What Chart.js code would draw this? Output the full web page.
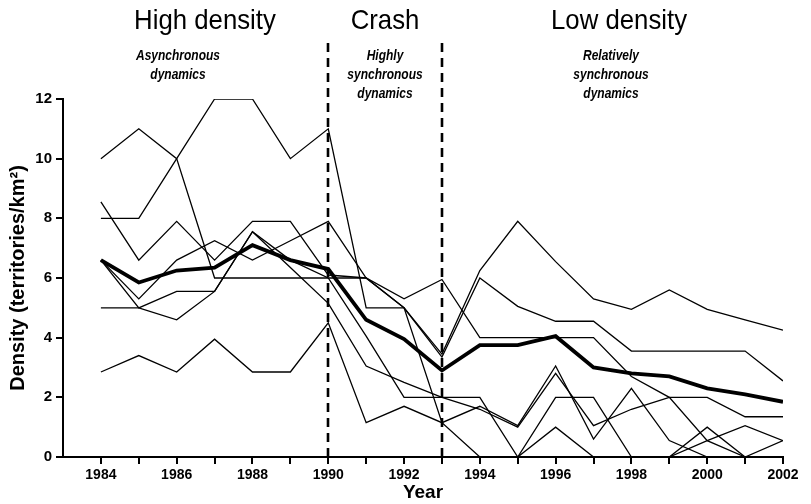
<!DOCTYPE html>
<html>
<head>
<meta charset="utf-8">
<script src="https://cdn.jsdelivr.net/npm/chart.js@4.4.1/dist/chart.umd.min.js"></script>
<style>
  html, body { margin: 0; padding: 0; background: #fff; }
</style>
</head>
<body>
<canvas id="chart" width="811" height="504"></canvas>
<script>
const years = [1984, 1985, 1986, 1987, 1988, 1989, 1990, 1991, 1992, 1993,
               1994, 1995, 1996, 1997, 1998, 1999, 2000, 2001, 2002];

// one array per site (territories/km2)
const siteA = [10, 11, 10, 6, 6, 6, 6, 6, 5.3, 5.95, 4.0, 4.0, 4.0, 4.0, 2.7, 2.0, 0.55, 0, 0.55];
const siteB = [8, 8, 10, 12, 12, 10, 11, 5, 5, 3.45, 6.25, 7.9, 6.55, 5.3, 4.95, 5.6, 4.95, 4.6, 4.25];
const siteC = [8.55, 6.6, 7.9, 6.6, 7.9, 7.9, 6.1, 6.0, 5.0, 3.35, 6.0, 5.05, 4.55, 4.55, 3.55, 3.55, 3.55, 3.55, 2.55];
const siteD = [6.6, 5.3, 6.6, 7.25, 6.6, 7.25, 7.9, 6.0, 5.0, 1.15, 0, 0, 1.0, 0, 0, 0, 0.55, 1.05, 0.55];
const siteE = [6.6, 5.0, 5.55, 5.55, 7.55, 6.6, 6.0, 4.05, 2.0, 2.0, 2.0, 0, 2.0, 2.0, 0, 0, 1.0, 0, 0];
const siteF = [5.0, 5.0, 4.6, 5.55, 7.55, 6.35, 5.15, 3.05, 2.5, 2.0, 1.6, 1.0, 2.8, 1.05, 1.6, 2.0, 2.0, 1.35, 1.35];
const siteG = [2.85, 3.4, 2.85, 3.95, 2.85, 2.85, 4.5, 1.15, 1.7, 1.15, 1.7, 1.05, 3.05, 0.6, 2.3, 0.55, 0, 0, 0];
const meanDensity = [6.6, 5.85, 6.25, 6.35, 7.1, 6.6, 6.3, 4.6, 3.95, 2.9, 3.75, 3.75, 4.05, 3.0, 2.8, 2.7, 2.3, 2.1, 1.85];

const yTicks = [0, 2, 4, 6, 8, 10, 12];
const xTicks = years;

const periodBreaks = [1990, 1993];
const periodTitles = ['High density', 'Crash', 'Low density'];
const periodNotes = [
    ['Asynchronous', 'dynamics'],
    ['Highly', 'synchronous', 'dynamics'],
    ['Relatively', 'synchronous', 'dynamics']
];

const FONT = "'Liberation Sans', Arial, sans-serif";

function toPoints(values) {
    return years.map((yr, i) => ({ x: yr, y: values[i] }));
}

const sites = [siteA, siteB, siteC, siteD, siteE, siteF, siteG];

const datasets = sites.map(values => ({
    data: toPoints(values),
    borderColor: '#000',
    borderWidth: 1.3,
    pointRadius: 0,
    tension: 0
}));

datasets.push({
    data: toPoints(meanDensity),
    borderColor: '#000',
    borderWidth: 3.8,
    pointRadius: 0,
    tension: 0
});

// narrow text: squeeze horizontally around its centre
function narrowText(ctx, text, cx, cy, squeeze) {
    ctx.save();
    ctx.translate(cx, cy);
    ctx.scale(squeeze, 1);
    ctx.fillText(text, 0, 0);
    ctx.restore();
}

// dashed period breaks + the text above the plot
const periodPlugin = {
    id: 'periods',
    afterDatasetsDraw(chart) {
        const { ctx, chartArea, scales: { x } } = chart;
        ctx.save();
        ctx.strokeStyle = '#000';
        ctx.lineWidth = 2.6;
        ctx.setLineDash([9, 6]);
        periodBreaks.forEach(yr => {
            const px = Math.round(x.getPixelForValue(yr));
            ctx.beginPath();
            ctx.moveTo(px, chartArea.bottom);
            ctx.lineTo(px, 42);
            ctx.stroke();
        });
        ctx.setLineDash([]);

        const titleX = [205, 385, 619];
        const noteX = [178, 385, 611];
        ctx.fillStyle = '#000';
        ctx.textAlign = 'center';
        ctx.textBaseline = 'middle';
        periodTitles.forEach((t, i) => {
            ctx.font = `28px ${FONT}`;
            narrowText(ctx, t, titleX[i], 21, 0.92);
            ctx.font = `italic bold 15px ${FONT}`;
            periodNotes[i].forEach((line, j) => {
                narrowText(ctx, line, noteX[i], 56 + j * 19, 0.8);
            });
        });
        ctx.restore();
    }
};

new Chart(document.getElementById('chart'), {
    type: 'line',
    data: { datasets: datasets },
    options: {
        responsive: false,
        animation: false,
        events: [],
        layout: { padding: { top: 99, right: 28, left: 0, bottom: 0 } },
        plugins: {
            legend: { display: false },
            tooltip: { enabled: false }
        },
        scales: {
            x: {
                type: 'linear',
                min: 1983,
                max: 2002,
                afterBuildTicks: axis => {
                    axis.ticks = xTicks.map(v => ({ value: v }));
                },
                afterFit: axis => { axis.height = 47; },
                grid: {
                    drawOnChartArea: false,
                    drawTicks: true,
                    tickLength: 7,
                    color: '#000',
                    lineWidth: 2
                },
                border: { display: true, color: '#000', width: 2 },
                ticks: {
                    autoSkip: false,
                    maxRotation: 0,
                    padding: 3,
                    color: '#000',
                    font: { family: FONT, size: 14, weight: 'bold' },
                    callback: v => (v % 2 === 0 ? String(v) : '')
                },
                title: {
                    display: true,
                    text: 'Year',
                    color: '#000',
                    padding: { top: 0, bottom: 0 },
                    font: { family: FONT, size: 19, weight: 'bold' }
                }
            },
            y: {
                min: 0,
                max: 12,
                afterBuildTicks: axis => {
                    axis.ticks = yTicks.map(v => ({ value: v }));
                },
                afterFit: axis => { axis.width = 63; },
                grid: {
                    drawOnChartArea: false,
                    drawTicks: true,
                    tickLength: 7,
                    color: '#000',
                    lineWidth: 2
                },
                border: { display: true, color: '#000', width: 2 },
                ticks: {
                    padding: 4,
                    color: '#000',
                    font: { family: FONT, size: 15, weight: 'bold' }
                },
                title: {
                    display: true,
                    text: 'Density (territories/km²)',
                    color: '#000',
                    padding: { top: 6, bottom: 0 },
                    font: { family: FONT, size: 20, weight: 'bold' }
                }
            }
        }
    },
    plugins: [periodPlugin]
});
</script>
</body>
</html>
